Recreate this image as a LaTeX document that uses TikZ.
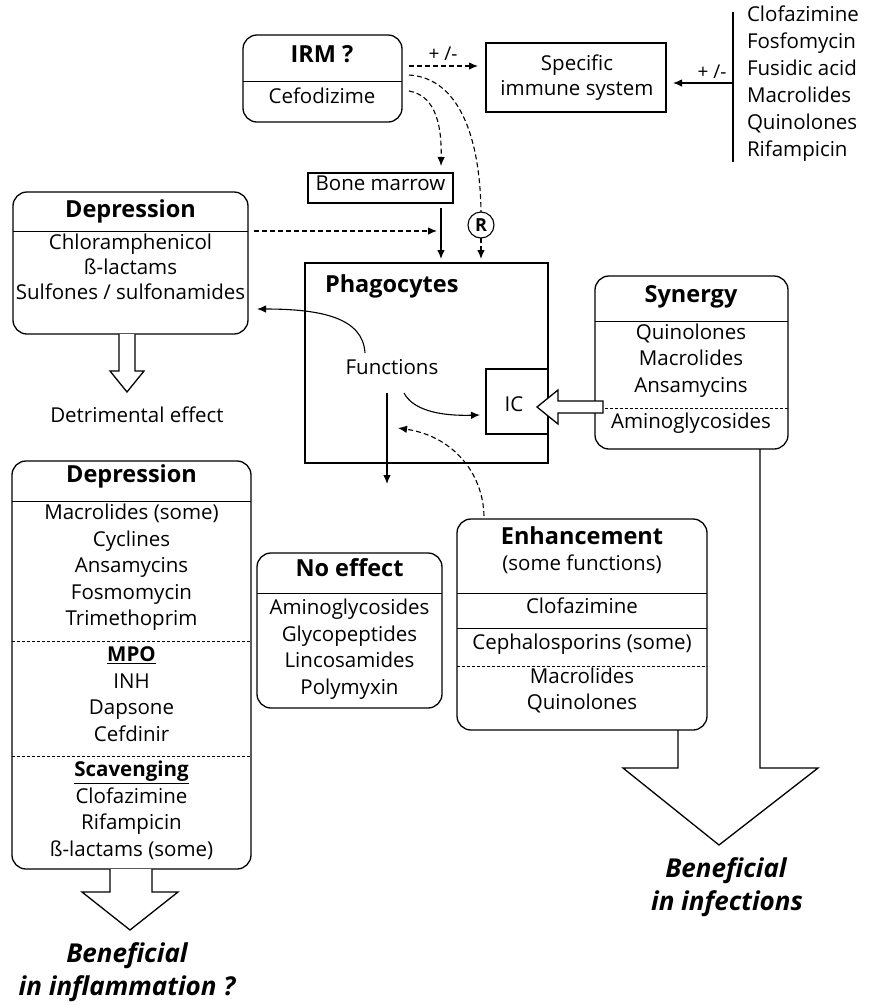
\documentclass[tikz,border=0pt]{standalone}
\usepackage{fontspec}
\setmainfont{Open Sans}
\usetikzlibrary{arrows.meta}
\begin{document}
\begin{tikzpicture}[x=1pt,y=-1pt,
  every node/.style={inner sep=0pt, outer sep=0pt},
  rbox/.style={draw, line width=1.3pt, rounded corners=14pt, anchor=north west},
  sbox/.style={draw, line width=1.3pt, anchor=north west},
  txt/.style={font=\fontsize{20.5}{24}\selectfont, text height=0.72em, text depth=0.22em},
  head/.style={font=\fontsize{23.5}{27}\selectfont\bfseries, text height=0.72em, text depth=0.22em},
  verdict/.style={font=\fontsize{26}{30}\selectfont\bfseries\itshape, text height=0.72em, text depth=0.22em},
  pm/.style={font=\fontsize{19}{22}\selectfont},
  sep/.style={line width=1pt},
  dsep/.style={line width=0.9pt, dash pattern=on 3pt off 2pt},
  arr/.style={line width=1.1pt, -{Latex[length=9pt,width=7.5pt]}},
  darr/.style={arr, dash pattern=on 5pt off 3pt},
  dline/.style={line width=1.1pt, dash pattern=on 5pt off 3pt},
  hollow/.style={line width=1.3pt, fill=white, line join=miter},
]
\useasboundingbox (0,0) rectangle (869,1005);

% ---------- IRM / Cefodizime ----------
\node[rbox, minimum width=159, minimum height=87] (irm) at (243,35) {};
\draw[sep] (irm.west |- 0,81) -- (irm.east |- 0,81);
\node[head] (irmT) at (322,60) {IRM ?};
\node[txt] (cefo) at (322,101) {Cefodizime};

% ---------- Specific immune system ----------
\node[sbox, minimum width=180, minimum height=69] (sis) at (486,43) {};
\node[txt] (sis1) at (577,68) {Specific};
\node[txt] (sis2) at (577,93) {immune system};

% ---------- antibiotics acting on the specific system ----------
\coordinate (lt) at (733,12);
\coordinate (lb) at (733,162);
\coordinate (lm) at (733,83);
\draw[line width=1.1pt] (lt) -- (lb);
\node[txt, anchor=west] (l1) at (747,19) {Clofazimine};
\node[txt, anchor=west] (l2) at (747,46) {Fosfomycin};
\node[txt, anchor=west] (l3) at (747,73) {Fusidic acid};
\node[txt, anchor=west] (l4) at (747,100) {Macrolides};
\node[txt, anchor=west] (l5) at (747,127) {Quinolones};
\node[txt, anchor=west] (l6) at (747,154) {Rifampicin};
\draw[arr, shorten >=7pt] (lm) -- (sis.east |- lm);
\node[pm] (pm2) at (712,72) {+ /-};

% ---------- IRM effects ----------
\coordinate (irmA) at (409,66);
\coordinate (irmB) at (409,75);
\coordinate (irmC) at (409,91);
\draw[darr, shorten >=8pt] (irmA) -- (sis.west |- irmA);
\node[pm] (pm1) at (443,54) {+ /-};

\node[sbox, minimum width=145, minimum height=30] (bm) at (308,173) {};
\node[txt] (bmT) at (380.5,188) {Bone marrow};
\coordinate (bmIn) at (441,166);
\coordinate (bmOut) at (441,208);
\draw[darr] (irmC) .. controls (432,95) and (442,118) .. (bmIn);

\node[circle, draw, line width=1.1pt, minimum size=26pt, font=\fontsize{18}{20}\selectfont\bfseries] (rec) at (481,225) {R};
\draw[dline] (irmB) .. controls (458,78) and (480,135) .. (rec.north);

% ---------- Phagocytes ----------
\node[sbox, line width=2.4pt, minimum width=243, minimum height=200] (phag) at (305,263) {};
\node[head, anchor=west] (phT) at (325,290) {Phagocytes};
\node[txt] (fun) at (392,372) {Functions};
\node[sbox, minimum width=62, minimum height=65] (ic) at (486,369) {};
\node[txt] (icT) at (514,409) {IC};

\draw[arr, shorten >=4pt] (bmOut) -- (bmOut |- phag.north);
\draw[darr, shorten >=4pt] (rec.south) -- (rec.south |- phag.north);

% ---------- Depression (detrimental) ----------
\node[rbox, minimum width=235, minimum height=142] (dep1) at (13,192) {};
\draw[sep] (dep1.west |- 0,231) -- (dep1.east |- 0,231);
\node[head] (dep1T) at (130.5,215) {Depression};
\node[txt] (d1a) at (130.5,247) {Chloramphenicol};
\node[txt] (d1b) at (130.5,272) {ß-lactams};
\node[txt] (d1c) at (130.5,297) {Sulfones / sulfonamides};
\draw[hollow] (119,334) -- (119,371) -- (110,371) -- (127,392) -- (144,371) -- (135,371) -- (135,334);
\node[txt] (detr) at (137,420) {Detrimental effect};

\coordinate (dep1R) at (254,231);
\coordinate (bmSide) at (437,231);
\draw[darr] (dep1R) -- (bmSide);

% Functions -> outputs
\coordinate (funN) at (365,353);
\coordinate (dep1In) at (257,309);
\coordinate (funE) at (404,393);
\coordinate (icIn) at (480,415);
\coordinate (funS) at (387,393);
\coordinate (funD) at (387,484);
\draw[arr] (funN) .. controls (363,318) and (322,309) .. (dep1In);
\draw[arr] (funE) .. controls (414,412) and (445,416) .. (icIn);
\draw[arr] (funS) -- (funD);

% ---------- Synergy ----------
\node[rbox, minimum width=193, minimum height=173] (syn) at (595,276) {};
\draw[sep] (syn.west |- 0,321) -- (syn.east |- 0,321);
\draw[dsep] (syn.west |- 0,408) -- (syn.east |- 0,408);
\node[head] (synT) at (691,300) {Synergy};
\node[txt] (s1) at (691,337) {Quinolones};
\node[txt] (s2) at (691,363) {Macrolides};
\node[txt] (s3) at (691,390) {Ansamycins};
\node[txt] (s4) at (691,426) {Aminoglycosides};
\draw[hollow] (603,401) -- (558,401) -- (558,390) -- (537,407) -- (558,424) -- (558,413) -- (603,413) -- cycle;

% ---------- Depression (beneficial in inflammation?) ----------
\node[rbox, minimum width=239, minimum height=408] (dep2) at (12,461) {};
\draw[sep] (dep2.west |- 0,501) -- (dep2.east |- 0,501);
\draw[dsep] (dep2.west |- 0,641) -- (dep2.east |- 0,641);
\draw[dsep] (dep2.west |- 0,756) -- (dep2.east |- 0,756);
\node[head] (dep2T) at (131.5,480) {Depression};
\node[txt] (e1) at (131.5,517) {Macrolides (some)};
\node[txt] (e2) at (131.5,543.5) {Cyclines};
\node[txt] (e3) at (131.5,570) {Ansamycins};
\node[txt] (e4) at (131.5,596.5) {Fosmomycin};
\node[txt] (e5) at (131.5,623) {Trimethoprim};
\node[txt, font=\fontsize{20.5}{24}\selectfont\bfseries] (mpo) at (131.5,659) {\underline{MPO}};
\node[txt] (e6) at (131.5,685.5) {INH};
\node[txt] (e7) at (131.5,712) {Dapsone};
\node[txt] (e8) at (131.5,738.5) {Cefdinir};
\node[txt, font=\fontsize{20.5}{24}\selectfont\bfseries] (scav) at (131.5,774) {\underline{Scavenging}};
\node[txt] (e9) at (131.5,800.5) {Clofazimine};
\node[txt] (e10) at (131.5,827) {Rifampicin};
\node[txt] (e11) at (131.5,853.5) {ß-lactams (some)};
\draw[hollow] (110,869) -- (110,892) -- (82,892) -- (130,930) -- (178,892) -- (152,892) -- (152,869);
\node[verdict] (inflA) at (127,960) {Beneficial};
\node[verdict] (inflB) at (127,993) {in inflammation ?};

% ---------- No effect ----------
\node[rbox, minimum width=185, minimum height=155] (noe) at (257,553) {};
\draw[sep] (noe.west |- 0,593) -- (noe.east |- 0,593);
\node[head] (noeT) at (349.5,574) {No effect};
\node[txt] (n1) at (349.5,612) {Aminoglycosides};
\node[txt] (n2) at (349.5,638.5) {Glycopeptides};
\node[txt] (n3) at (349.5,665) {Lincosamides};
\node[txt] (n4) at (349.5,691.5) {Polymyxin};

% ---------- Enhancement ----------
\node[rbox, minimum width=250, minimum height=211] (enh) at (457,519) {};
\draw[sep] (enh.west |- 0,593) -- (enh.east |- 0,593);
\draw[sep] (enh.west |- 0,628) -- (enh.east |- 0,628);
\draw[dsep] (enh.west |- 0,666) -- (enh.east |- 0,666);
\node[head] (enhT) at (582,542) {Enhancement};
\node[txt] (enhS) at (582,568) {(some functions)};
\node[txt] (h1) at (582,611) {Clofazimine};
\node[txt] (h2) at (582,647) {Cephalosporins (some)};
\node[txt] (h3) at (582,681) {Macrolides};
\node[txt] (h4) at (582,707) {Quinolones};
\coordinate (enhTop) at (484,516);
\coordinate (funIn) at (398,428);
\draw[darr] (enhTop) .. controls (483,472) and (452,436) .. (funIn);

% ---------- Beneficial in infections ----------
\coordinate (enhB) at (678,730);
\coordinate (synB) at (760,449);
\draw[line width=1.3pt, line join=miter] (enhB) -- (678,768) -- (623,768) -- (719,845) -- (818,768) -- (760,768) -- (synB);
\node[verdict] (infA) at (726,875) {Beneficial};
\node[verdict] (infB) at (727,908) {in infections};
\end{tikzpicture}
\end{document}
